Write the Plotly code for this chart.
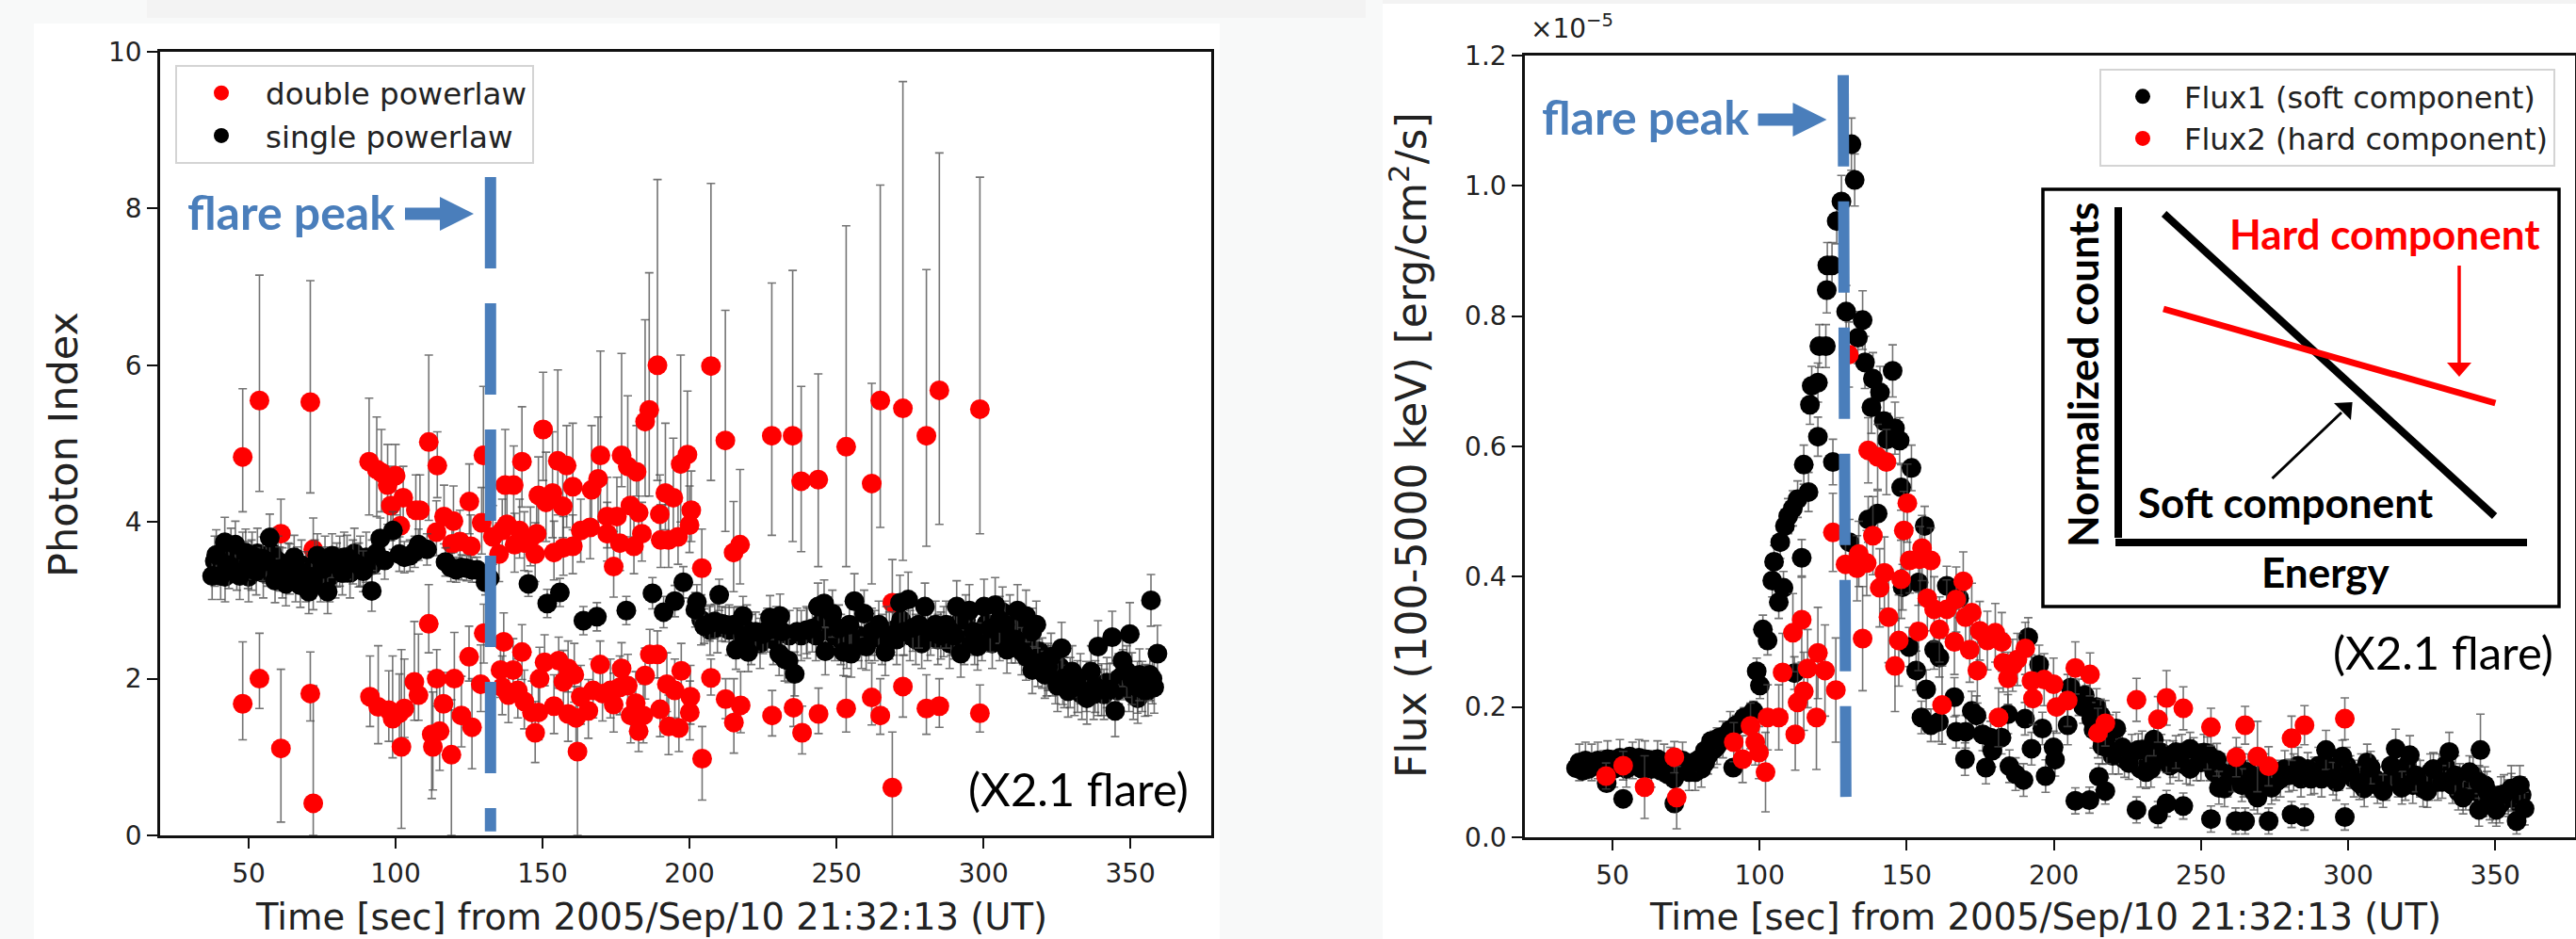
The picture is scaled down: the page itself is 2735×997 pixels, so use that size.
import plotly.graph_objects as go

W, H = 2735, 997

# ---------- Left panel: photon index ----------
single_t = [37.6,40.5,39,41.9,43.3,45.5,47,49,49.8,51.2,52.6,54.8,56,57.2,59,60.5,62.7,63.5,65.5,66.5,67.6,70.5,71.5,73.4,75.5,76.9,78.4,80,81.9,83.5,85.5,87.5,89,91.9,93.5,94.8,96.3,99.1,101.3,103,104.9,106.5,107.8,110.7,117,118.8,120.6,122.5,124.2,126,127.7,130.6,132,145.2,151.6,155.9,163.9,168.5,178.5,187.4,191.2,195,197.9,202.5,202,210.1,205,206.8,208.6,211,212.2,215.1,218.2,215.8,220,218.5,222.5,225,226.5,227.4,230.8,231.5,230.5,232.4,233.7,235.8,236.6,239.8,241.8,243.7,245.8,248.6,246.2,250.8,252.4,254.4,255,256.1,259.4,260.1,262,264.4,266.6,268,271.6,274.4,273,276,278,280.1,282,283.7,285.5,287.3,289,290.9,292.3,295.2,290.1,298,300.2,304,296.6,302.3,305.5,307.3,308,309.5,311.6,314.5,318,316.6,310.9,313,314.5,316.6,318.5,320.9,322,323,326.6,325.2,327,328.8,330.2,332,335.2,336.6,338,340.2,339,343.8,349.8,344.8,343,347.3,348.8,350.5,352.4,353.1,355,356.6,358.1,357,359.2]
single_y = [3.31,3.31,3.58,3.74,3.45,3.71,3.31,3.61,3.45,3.57,3.37,3.53,3.5,3.8,3.25,3.4,3.21,3.45,3.55,3.4,3.19,3.11,3.3,3.57,3.4,3.11,3.57,3.45,3.35,3.55,3.49,3.45,3.37,3.12,3.6,3.79,3.51,3.89,3.59,3.55,3.57,3.62,3.71,3.65,3.49,3.42,3.39,3.42,3.41,3.39,3.39,3.23,3.28,3.21,2.96,3.1,2.74,2.79,2.87,3.09,2.85,2.99,3.23,2.98,2.88,3.07,2.67,2.7,2.73,2.7,2.69,2.69,2.8,2.37,2.34,2.55,2.6,2.57,2.62,2.78,2.8,2.6,2.32,2.25,2.23,2.06,2.6,2.62,2.64,2.92,2.96,2.83,2.35,2.64,2.34,2.69,2.32,2.99,2.83,2.41,2.6,2.69,2.34,2.55,2.97,3.01,2.6,2.65,2.69,2.92,2.6,2.69,2.55,2.69,2.6,2.92,2.32,2.87,2.55,2.41,2.92,2.94,2.6,2.64,2.75,2.69,2.37,2.5,2.87,2.8,2.69,2.6,2.5,2.35,2.28,2.11,2.2,2.05,2.15,2.28,2.39,1.91,2.0,1.84,2.09,1.9,1.75,2.09,1.9,1.86,2.41,2.53,2.57,1.59,1.86,2.23,2.09,2.0,1.89,2.05,1.85,2.05,1.89,3.0,2.32]
single_e = [.3,.3,.32,.32,.3,.3,.3,.3,.3,.3,.3,.28,.28,.3,.28,.28,.28,.28,.28,.28,.28,.28,.28,.28,.28,.28,.28,.28,.28,.28,.28,.28,.26,.26,.26,.26,.24,.24,.22,.2,.2,.2,.2,.2,.18,.18,.16,.16,.16,.16,.16,.16,.16,.16,.18,.18,.18,.18,.18,.2,.2,.2,.2,.22,.22,.2,.22,.22,.22,.22,.22,.22,.25,.25,.25,.25,.25,.25,.28,.28,.28,.28,.28,.28,.28,.28,.3,.3,.3,.3,.3,.3,.3,.3,.3,.3,.3,.35,.3,.3,.3,.3,.3,.3,.35,.35,.3,.3,.3,.3,.3,.3,.3,.3,.3,.33,.3,.33,.3,.3,.35,.35,.3,.3,.3,.3,.3,.3,.33,.33,.3,.3,.3,.3,.3,.3,.3,.3,.3,.3,.33,.33,.33,.33,.33,.33,.33,.33,.33,.33,.33,.33,.4,.33,.33,.33,.33,.33,.33,.33,.33,.33,.33,.33,.36,.33,.33,.96,.34]
# further points packed inside the solid black band
single_band_t = [38.5,42,44,46,48,50,51,53,55,56.5,58,60,61.5,64,66,68,69.5,72,72.5,74.5,76,77.5,79.5,81,82.5,84.5,86,88,90,92,204,207,209.5,213.5,216.5,219.5,221,224,228.5,229.5,234,238,240,243,244.5,247.5,249.5,251.5,253.5,257.5,258.5,261,263,265.5,267,269.5,270.5,272,275,277,279,281,284.5,286.5,288.5,291.5,293.5,294,297,299.5,301,303,305.5,306.5,309,312,313.5,315.5,319,320,321.5,323.5,324.5,326,327.5,329.5,331,333,333.5,335,337.5,339,341,342,345.5,346,347.5,349.5,351,352.5,354,356,357.5]
single_band_y = [3.5,3.3,3.6,3.45,3.55,3.3,3.45,3.6,3.35,3.5,3.6,3.5,3.35,3.4,3.3,3.45,3.3,3.2,3.45,3.3,3.5,3.3,3.35,3.5,3.55,3.35,3.6,3.5,3.55,3.45,2.75,2.62,2.65,2.62,2.6,2.62,2.5,2.45,2.5,2.6,2.55,2.55,2.58,2.55,2.7,2.6,2.55,2.5,2.45,2.55,2.45,2.55,2.55,2.5,2.6,2.62,2.5,2.75,2.55,2.5,2.45,2.55,2.5,2.6,2.45,2.7,2.5,2.75,2.5,2.55,2.7,2.45,2.55,2.85,2.75,2.6,2.5,2.4,2.35,2.2,2.1,2.1,2.0,2.15,1.95,1.95,1.85,2.0,1.8,1.9,1.8,1.85,1.8,1.95,1.85,2.0,2.05,1.9,1.8,1.75,1.9,1.85,2.0]

soft_t = [48,53.7,61,71,72,91,93.6,95.2,97.3,98.4,100,101.6,102.6,106.9,108.3,111.3,114.2,116.5,113.9,119.7,119.2,125.1,121.9,125.6,129.9,129.3,133.1,135.2,136.3,137.3,137.9,140.2,140.5,142.2,143,143.8,145.9,147.5,148,148.6,150.2,151.2,153.4,153.9,155.2,156.9,157.1,158.2,160.3,160.3,163,166.2,166.7,168.9,169.7,172,172,174.2,175.3,176.3,176.9,179,179.9,181.1,182,182.7,183.8,184.9,186.3,189.1,189.9,190.2,191.8,192.9,194.5,196.1,197,199.3,200,200.6,204.2,207.3,212.2,215,217.2,228,235.1,238,243.8,253.3,262,264.9,269,272.6,280.6,285,298.8]
soft_y = [4.83,5.55,3.85,5.53,3.65,4.77,4.67,4.63,4.47,4.21,4.59,3.95,4.31,4.15,4.15,5.02,4.72,4.07,3.87,4.01,3.72,4.26,3.75,3.69,4.85,3.99,3.81,3.59,3.89,4.47,3.97,4.47,3.71,3.89,4.77,3.73,3.79,3.59,3.85,4.34,5.18,4.25,4.37,3.61,4.78,4.2,3.67,4.72,3.69,4.45,3.89,3.93,4.41,4.55,4.85,3.85,4.07,3.43,4.07,3.73,4.85,4.71,4.21,3.69,4.64,4.12,3.85,5.28,5.43,6.0,4.1,3.77,4.37,3.77,4.31,3.81,4.74,4.86,3.96,4.15,3.41,5.99,5.04,3.61,3.71,5.1,5.1,4.52,4.54,4.96,4.49,5.55,2.97,5.45,5.1,5.68,5.44]
soft_up = [.87,1.6,.44,1.55,.4,.81,.67,.55,.52,.5,.4,.45,.4,.45,.45,1.11,.43,.4,.4,.45,.4,.48,.4,.4,.88,.45,.4,.4,.4,.71,.4,.5,.4,.4,.7,.4,.4,.4,.45,.49,.73,.64,.78,.4,1.16,.5,.4,.51,.4,.81,.4,.4,.82,.79,1.33,.4,.5,.45,.5,.4,1.3,.9,.5,.4,.59,.5,.4,1.3,1.75,2.37,.5,.45,.89,.45,.76,.45,1.39,.81,.5,.5,.5,2.33,1.66,.65,.96,1.95,2.11,1.21,1.35,2.82,1.28,2.75,.55,4.17,2.12,3.03,2.96]
soft_dn = [.70,1.16,.45,1.16,.3,.68,.6,.5,.5,.45,.5,.4,.4,.45,.45,1.0,.41,.35,.3,.4,.4,.41,.35,.35,.85,.4,.35,.35,.35,.57,.35,.47,.35,.35,.58,.35,.35,.35,.35,.44,.65,.5,.57,.35,.69,.4,.35,.79,.35,.55,.4,.4,.51,.65,.85,.35,.4,.39,.4,.35,.4,.51,.4,.35,.31,.35,.35,.95,1.1,1.47,.4,.35,.47,.35,.5,.35,.74,.7,.35,.4,.6,1.46,1.16,.5,.5,1.27,1.35,.9,1.11,1.53,1.28,1.62,.5,1.94,1.41,1.71,1.59]

hard_t = [48,53.7,61,71,72,91.3,94.1,97.7,99,101.3,102,103,106.4,107.8,111.3,112.3,112.7,114,115,116.3,119,120,122.4,125,126,129,130,135.7,136.3,136.8,138.4,140,141.6,143,143.8,146.4,147.5,148.6,149,150.7,153.9,155.5,157.1,158.7,158.7,160.8,161.4,161.9,163,165.6,167.2,169.6,170.4,173.1,174.2,176.3,176.9,179,180,181.7,182.7,184.3,184.9,186.5,189.1,190,192.3,192.9,195,196.4,197.2,200.1,200.3,204.3,207.3,212.3,215.1,217.4,228.1,235.4,238.3,243.9,253.3,262,264.9,269,272.6,280.6,285,298.8]
hard_y = [1.68,2.0,1.11,1.81,.41,1.77,1.64,1.6,1.49,1.56,1.13,1.62,1.96,1.79,2.7,1.29,1.13,2.0,1.33,1.68,1.03,2.0,1.53,2.28,1.38,1.93,2.58,2.11,1.89,2.47,1.79,2.11,1.85,2.34,1.71,1.57,1.31,1.57,2.0,2.21,1.65,2.23,1.96,2.13,1.55,2.05,1.5,1.07,1.77,1.59,1.85,2.18,1.81,1.85,1.67,1.89,2.13,1.91,1.53,1.69,1.33,1.53,2.04,2.31,2.31,1.61,1.93,1.39,1.85,1.37,2.1,1.57,1.77,.98,2.01,1.74,1.44,1.66,1.53,1.63,1.31,1.55,1.62,1.76,1.53,.61,1.9,1.62,1.65,1.56]
hard_up = [.79,.58,1.01,.53,1.5,.52,.78,.5,.8,.5,1.24,.63,.77,.78,.5,.8,.7,.37,.7,.4,.7,.59,.5,.39,.62,.5,.37,.4,.4,.37,.4,.4,.4,.35,.4,.4,.4,.4,.4,.35,.4,.3,.4,.35,.4,.4,.4,.63,.4,.4,.4,.3,.4,.4,.4,.4,.33,.4,.4,.4,.4,.4,.35,.32,.3,.4,.4,.4,.4,.4,.35,.4,.4,.41,.24,.26,.56,.43,.32,.37,.34,.33,.41,.44,.47,.71,.4,.43,.35,.36]
hard_dn = [.46,.38,.94,.35,.41,.38,.47,.4,.5,.4,1.04,.37,.49,.32,.37,.82,.55,.35,.5,.35,1.03,.4,.4,.31,.53,.35,.38,.35,.35,.35,.35,.35,.35,.35,.35,.3,.38,.35,.35,.3,.35,.35,.35,.3,.35,.35,.35,1.07,.35,.35,.35,.3,.35,.35,.35,.35,.3,.35,.35,.35,.26,.35,.3,.3,.3,.35,.35,.36,.35,.3,.3,.35,.35,.53,.22,.25,.39,.35,.26,.24,.27,.25,.3,.35,.24,.7,.39,.33,.27,.24]

# ---------- Right panel: flux, in units of 1e-5 erg/cm2/s ----------
flux1_t = [37.6,39.8,41.9,44,46.2,48,49.4,51.5,53.6,53.6,55.8,57.9,60,62.2,64.3,66.4,68.6,70.9,71,72.8,75,77.1,79.2,81.4,81.4,83.5,86.2,88.9,91,92,94.7,97.9,99,100.1,101.1,102.7,104.3,104.9,106.5,107,108.1,108.6,109.7,111.3,111.8,112.9,114.3,115,116.6,117.1,117.7,119.8,119.8,120.3,122.5,122.8,123,124.6,124.9,126.2,127.8,129.4,130.5,131.2,132.3,133.4,135,135.8,136.9,138,138.5,140.1,140.9,142.2,143.3,145.2,146,147.6,148.1,148.6,150.8,151.6,153.2,154,155,156.1,156.6,158.2,159.3,160.9,161.1,163.6,166.2,166.8,167.8,169.8,170,172.1,173.7,175.8,176.9,178.5,179.1,182.2,184.4,184.9,187,189.7,190.2,191.3,192.4,195,196.1,197.2,199.9,200.4,204.7,205.7,207.3,210,210.5,212.1,212.7,215.3,215.9,217.5,218,221.2,223.3,225.5,228.1,228.7,231.3,234,235.4,238.3,238.3,241.5,244,246.3,246.3,252.2,253.4,255.4,256.1,260.7,261.8,263.9,265,269.2,269.2,273,274,279.9,280.8,285.2,286.3,287.4,292.5,294.9,298.1,298.9,300.7,303.9,307.7,311.9,314.6,316.2,318.3,321,323.1,326.9,329,332,334.4,336.5,339.1,341.3,344.5,345,347.2,344.5,348.2,350.4,353,355.5,358.4,357.3,360]
flux1_v = [.106,.102,.105,.11,.114,.083,.119,.119,.059,.11,.124,.11,.105,.119,.11,.102,.097,.09,.052,.1,.11,.114,.119,.133,.114,.148,.153,.158,.107,.172,.184,.194,.255,.233,.319,.302,.394,.423,.361,.453,.383,.478,.493,.505,.252,.519,.429,.572,.53,.664,.693,.698,.615,.754,.754,.84,.878,.878,.576,.946,.976,.807,.453,1.064,1.009,.767,.794,.729,.488,.66,.704,.497,.683,.639,.611,.716,.628,.609,.537,.384,.292,.567,.256,.391,.184,.478,.227,.172,.288,.177,.276,.386,.215,.162,.367,.12,.162,.194,.187,.158,.107,.153,.133,.153,.189,.109,.097,.088,.182,.307,.136,.265,.167,.094,.138,.119,.172,.23,.056,.2,.218,.057,.182,.093,.187,.071,.138,.167,.138,.114,.042,.134,.10,.15,.035,.052,.124,.131,.048,.136,.105,.129,.028,.119,.076,.095,.025,.08,.025,.061,.09,.025,.076,.095,.035,.031,.105,.09,.134,.09,.124,.031,.10,.083,.107,.071,.11,.136,.076,.126,.095,.071,.105,.085,.131,.095,.061,.10,.085,.134,.071,.042,.052,.042,.066,.075,.08,.025,.044]
flux1_e = [.012,.012,.012,.012,.012,.012,.012,.012,.012,.012,.012,.012,.012,.012,.012,.012,.012,.012,.012,.012,.012,.012,.012,.012,.012,.012,.012,.012,.012,.015,.015,.015,.02,.02,.022,.022,.025,.025,.025,.025,.025,.025,.027,.027,.025,.028,.028,.03,.03,.03,.03,.03,.03,.033,.033,.035,.035,.035,.035,.035,.04,.04,.035,.04,.04,.04,.045,.04,.035,.04,.04,.035,.04,.04,.04,.04,.04,.035,.035,.035,.03,.035,.03,.035,.025,.03,.03,.025,.03,.03,.03,.03,.03,.025,.03,.025,.025,.03,.03,.025,.025,.025,.025,.025,.03,.025,.025,.025,.025,.03,.025,.03,.025,.025,.025,.025,.03,.03,.02,.025,.025,.02,.025,.02,.025,.02,.025,.025,.025,.025,.02,.025,.025,.025,.02,.02,.025,.025,.02,.025,.025,.025,.02,.025,.025,.025,.02,.025,.02,.025,.025,.02,.025,.025,.02,.02,.025,.025,.03,.025,.025,.02,.025,.025,.025,.025,.03,.03,.025,.03,.025,.025,.025,.025,.03,.03,.025,.025,.025,.055,.03,.025,.025,.025,.03,.035,.03,.02,.025]
# further points packed inside the solid black band
flux1_band_t = [38.7,40.8,42.9,45,47,48.3,50.5,52.5,54.7,56.8,59,61,63.2,65.3,67.5,69.7,71.8,73.8,76,78.1,80.2,82.4,84.5,85.5,87.5,90,208.5,211,213.5,214.5,216.5,219,220,222,224,226.5,229.5,230,232.5,233,235,236.5,239.5,240.5,242.5,243.5,245,247.5,248.5,250,251,253,254.5,257,258,259,262.5,264.5,266,267.5,268,270.5,271.5,275.5,277,278.5,281.5,283,284,288.5,290,291,293,296,297,299.5,302,304.5,305.5,306.5,309,310,313,315.5,317,319.5,320,322,324.5,325.5,327.5,328,330.5,331,333,335.5,337.5,338,340,342.5,343.5,346,346.5,349,351.5,352,354.5,355.5,357,358.5,359]
flux1_band_v = [.115,.118,.115,.118,.105,.12,.105,.122,.105,.118,.122,.12,.105,.12,.115,.11,.1,.118,.1,.1,.105,.125,.135,.14,.15,.165,.215,.205,.165,.2,.14,.16,.125,.125,.12,.13,.105,.135,.13,.105,.12,.13,.11,.12,.115,.13,.11,.125,.115,.115,.13,.115,.1,.1,.075,.09,.11,.09,.1,.085,.07,.08,.1,.085,.09,.105,.1,.11,.09,.095,.11,.09,.11,.085,.1,.11,.09,.1,.075,.115,.09,.08,.085,.1,.09,.085,.11,.08,.09,.075,.085,.1,.085,.1,.11,.08,.07,.085,.07,.095,.07,.06,.08,.05,.05,.065,.06,.07,.065,.05,.065]

flux2_t = [47.8,53.6,60.9,71,71.8,91.2,94.2,96.9,98.5,99.8,102,102.7,106.5,107.8,111.3,112.1,112.9,114.3,115,116.3,119.3,119.8,122.2,124.9,125.9,129.2,130.3,133.1,133.7,135,136.4,136.9,138.5,140.1,140.8,142.4,143.1,143.8,146,147.3,148.1,149,150.2,151,154,154.5,155.2,157,158.2,159.3,161.1,162,163.6,166.2,166.8,169.2,170,171.4,172.1,174,174.8,177.4,180.1,181.2,182.3,182.8,184.4,186,187.6,190.3,192.4,192.9,196.7,199.9,200.9,204.7,207.3,212.3,215,217.5,228.1,235.4,238.3,244,253.4,262,265,269.2,273,280.8,285.2,298.9]
flux2_v = [.094,.11,.077,.123,.061,.146,.12,.171,.146,.13,.1,.184,.184,.253,.314,.158,.207,.334,.224,.259,.184,.283,.256,.468,.226,.419,.741,.413,.435,.305,.421,.594,.463,.584,.383,.406,.576,.338,.263,.302,.396,.471,.513,.425,.316,.427,.444,.367,.425,.35,.319,.203,.35,.3,.365,.393,.338,.288,.345,.256,.317,.302,.314,.184,.3,.268,.244,.264,.273,.29,.24,.213,.242,.235,.2,.21,.26,.25,.16,.175,.211,.181,.214,.198,.169,.123,.172,.124,.109,.152,.172,.182]
flux2_e = [.02,.022,.048,.024,.048,.03,.036,.035,.035,.04,.061,.05,.05,.06,.06,.055,.06,.065,.06,.06,.08,.07,.07,.06,.08,.05,.05,.05,.05,.08,.05,.05,.06,.05,.06,.055,.05,.07,.07,.07,.06,.06,.06,.05,.06,.05,.05,.05,.05,.05,.05,.06,.045,.05,.05,.045,.045,.05,.045,.05,.045,.045,.045,.045,.045,.045,.04,.04,.04,.04,.04,.04,.04,.04,.04,.04,.04,.033,.038,.035,.033,.035,.042,.033,.029,.03,.029,.054,.03,.034,.03,.032]

x_ticks = [50, 100, 150, 200, 250, 300, 350]
y_ticks_left = [0, 2, 4, 6, 8, 10]
y_ticks_right = [0.0, 0.2, 0.4, 0.6, 0.8, 1.0, 1.2]
peak_left_t = [132.3, 132.3]
peak_left_y = [8.40, 0.05]
peak_right_t = [128.4, 129.3]
peak_right_v = [1.170, 0.062]

BLUE = "#4a7ebb"
FONT = "DejaVu Sans"
CAL = "Lato"

def px(x): return x / W
def py(y): return 1 - y / H

fig = go.Figure()
err_col = "rgba(70,70,70,0.75)"

def ebar(up, dn=None):
    d = dict(type="data", array=up, color=err_col, thickness=1.6, width=4.5)
    if dn is not None:
        d["symmetric"] = False
        d["arrayminus"] = dn
    return d

def econst(v):
    return dict(type="constant", value=v, color=err_col, thickness=1.6, width=4.5)

m = lambda c: dict(color=c, size=21, line=dict(width=0))

fig.add_trace(go.Scatter(x=soft_t, y=soft_y, mode="markers", name="double powerlaw", marker=m("#ff0000"),
    error_y=ebar(soft_up, soft_dn), xaxis="x", yaxis="y", legend="legend", legendgroup="a"))
fig.add_trace(go.Scatter(x=hard_t, y=hard_y, mode="markers", name="double powerlaw", marker=m("#ff0000"),
    error_y=ebar(hard_up, hard_dn), xaxis="x", yaxis="y", showlegend=False, legendgroup="a"))
fig.add_trace(go.Scatter(x=single_band_t, y=single_band_y, mode="markers", name="single powerlaw", marker=m("#000000"),
    error_y=econst(.32), xaxis="x", yaxis="y", showlegend=False, legendgroup="b"))
fig.add_trace(go.Scatter(x=single_t, y=single_y, mode="markers", name="single powerlaw", marker=m("#000000"),
    error_y=ebar(single_e), xaxis="x", yaxis="y", legend="legend", legendgroup="b"))
fig.add_trace(go.Scatter(x=flux1_band_t, y=flux1_band_v, mode="markers", name="Flux1 (soft component)", marker=m("#000000"),
    error_y=econst(.028), xaxis="x2", yaxis="y2", showlegend=False, legendgroup="c"))
fig.add_trace(go.Scatter(x=flux1_t, y=flux1_v, mode="markers", name="Flux1 (soft component)", marker=m("#000000"),
    error_y=ebar(flux1_e), xaxis="x2", yaxis="y2", legend="legend2", legendgroup="c"))
fig.add_trace(go.Scatter(x=flux2_t, y=flux2_v, mode="markers", name="Flux2 (hard component)", marker=m("#ff0000"),
    error_y=ebar(flux2_e), xaxis="x2", yaxis="y2", legend="legend2", legendgroup="d"))

shapes = []
def rect(x0, y0, x1, y1, fill, line=None, lw=0, layer="above"):
    shapes.append(dict(type="rect", xref="paper", yref="paper", x0=px(x0), x1=px(x1), y0=py(y0), y1=py(y1),
                       fillcolor=fill, line=dict(color=line or fill, width=lw), layer=layer))
def seg(x0, y0, x1, y1, color, w):
    shapes.append(dict(type="line", xref="paper", yref="paper", x0=px(x0), x1=px(x1), y0=py(y0), y1=py(y1),
                       line=dict(color=color, width=w)))
def poly(points, color):
    path = "M " + " L ".join(f"{px(a):.5f},{py(b):.5f}" for a, b in points) + " Z"
    shapes.append(dict(type="path", xref="paper", yref="paper", path=path, fillcolor=color, line=dict(width=0)))

# page backdrop
rect(156, 0, 1450, 19, "#f3f3f3", layer="below")
rect(1468, 0, 2735, 4, "#f3f3f3", layer="below")
rect(36, 25, 1295, 997, "#ffffff", layer="below")
rect(1468, 4, 2735, 997, "#ffffff", layer="below")

# flare peak markers
shapes.append(dict(type="line", xref="x", yref="y", x0=peak_left_t[0], x1=peak_left_t[1], y0=peak_left_y[0], y1=peak_left_y[1],
                   line=dict(color=BLUE, width=12, dash="97px,37px")))
shapes.append(dict(type="line", xref="x2", yref="y2", x0=peak_right_t[0], x1=peak_right_t[1], y0=peak_right_v[0], y1=peak_right_v[1],
                   line=dict(color=BLUE, width=12, dash="97px,37px")))
# block arrows
for x0, yc in [(430, 227), (1866.5, 127)]:
    poly([(x0, yc-6.5), (x0+37, yc-6.5), (x0+37, yc-18), (x0+73, yc), (x0+37, yc+18), (x0+37, yc+6.5), (x0, yc+6.5)], BLUE)

# inset
rect(2169, 201, 2717, 644, "#ffffff", "#000000", 3.5)
rect(2245, 220, 2253, 571, "#000000")
rect(2246, 572, 2683, 580, "#000000")
seg(2297.6, 227, 2648.6, 548, "#000000", 8)
seg(2297, 328, 2649.4, 428, "#ff0000", 7)
seg(2611, 282, 2611, 386, "#ff0000", 3.5)
poly([(2598, 385), (2624, 385), (2611, 400)], "#ff0000")
seg(2412.5, 508, 2486, 438, "#000000", 3)
poly([(2478, 428), (2497.6, 427), (2496, 446)], "#000000")

def note(text, x, y, size, color="#000000", family=CAL, angle=0, bold=False, xanchor="center"):
    return dict(text=f"<b>{text}</b>" if bold else text, x=px(x), y=py(y), xref="paper", yref="paper",
                xanchor=xanchor, yanchor="middle", showarrow=False, textangle=angle,
                font=dict(family=family, size=size, color=color))

ink = "#222222"
annotations = [
    note("flare peak", 197, 225, 50, BLUE, bold=True, xanchor="left"),
    note("flare peak", 1635, 124, 50, BLUE, bold=True, xanchor="left"),
    note("(X2.1 flare)", 1145, 837, 49),
    note("(X2.1 flare)", 2594, 692, 49),
    note("Time [sec] from 2005/Sep/10 21:32:13 (UT)", 691, 973, 38.5, ink, FONT),
    note("Time [sec] from 2005/Sep/10 21:32:13 (UT)", 2171, 973, 38.5, ink, FONT),
    note("Photon Index", 67, 472, 43, ink, FONT, angle=-90),
    note("Flux (100-5000 keV) [erg/cm<sup>2</sup>/s]", 1495, 473, 44, ink, FONT, angle=-90),
    note("×10<sup>−5</sup>", 1669, 28, 28, ink, FONT),
    note("Hard component", 2532, 248, 44, "#ff0000", bold=True),
    note("Soft component", 2427, 533, 44, "#000000", bold=True),
    note("Energy", 2469, 607, 44, "#000000", bold=True),
    note("Normalized counts", 2211, 398, 44, "#000000", angle=-90, bold=True),
]

tickf = dict(family=FONT, size=28, color=ink)
axis = dict(showgrid=False, zeroline=False, showline=True, linecolor="#111111", linewidth=2.5, mirror=True,
            ticks="outside", ticklen=11, tickwidth=2, tickcolor="#111111", tickfont=tickf, automargin=False)
legend_common = dict(xref="paper", yref="paper", xanchor="left", yanchor="top", bgcolor="#ffffff",
                     bordercolor="#d4d4d4", borderwidth=2, tracegroupgap=12,
                     itemclick=False, itemdoubleclick=False, traceorder="normal")

fig.update_layout(
    width=W, height=H, autosize=False, margin=dict(l=0, r=0, t=0, b=0, pad=0, autoexpand=False),
    paper_bgcolor="#f8f9f9", plot_bgcolor="#ffffff", showlegend=True,
    xaxis=dict(axis, domain=[px(170), px(1286)], range=[19.9, 377.5], tickvals=x_ticks, anchor="y", ticklabelstandoff=3),
    yaxis=dict(axis, domain=[py(887), py(55)], range=[0, 10], tickvals=y_ticks_left, anchor="x"),
    xaxis2=dict(axis, domain=[px(1619), px(2733.5)], range=[20.2, 377], tickvals=x_ticks, anchor="y2", ticklabelstandoff=3),
    yaxis2=dict(axis, domain=[py(889), py(59)], range=[0, 1.2], tickvals=y_ticks_right, tickformat=".1f", anchor="x2"),
    legend=dict(legend_common, x=px(186), y=py(69), itemwidth=84, font=dict(family=FONT, size=32.5, color=ink)),
    legend2=dict(legend_common, x=px(2229), y=py(73), itemwidth=78, font=dict(family=FONT, size=32, color=ink)),
    shapes=shapes, annotations=annotations,
)

fig.write_html("out.html", config=dict(displayModeBar=False),
               post_script="document.body.style.margin='0';document.body.style.overflow='hidden';")
